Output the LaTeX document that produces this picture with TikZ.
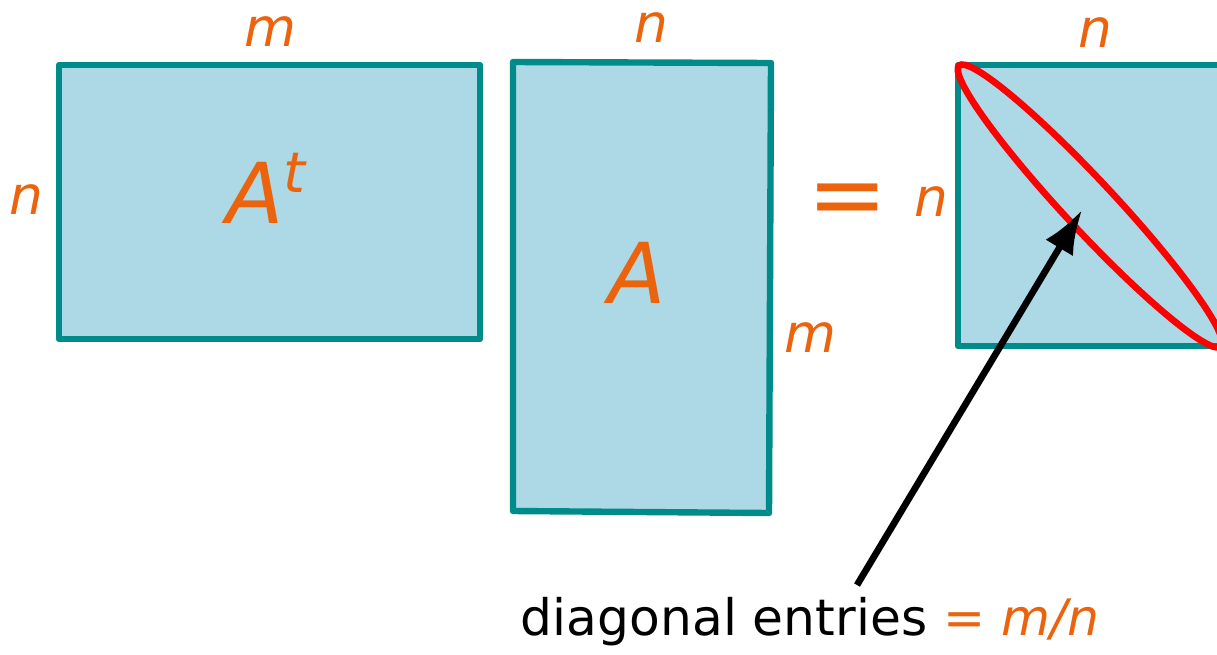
\documentclass[tikz,border=0pt]{standalone}
\usepackage{fontspec}
\setmainfont{DejaVu Sans}
\usepackage{xcolor}
\usetikzlibrary{arrows.meta,positioning}

\definecolor{matfill}{RGB}{173,216,230}
\definecolor{matedge}{RGB}{0,139,139}
\definecolor{dimorange}{RGB}{236,99,14}

\begin{document}
\begin{tikzpicture}[x=0.75pt,y=-0.75pt,
    matrixbox/.style={fill=matfill,draw=matedge,line width=4.8pt,line join=round},
    dimlabel/.style={text=dimorange,inner sep=0pt,font=\fontsize{40}{48}\selectfont\itshape},
    matname/.style={text=dimorange,inner sep=0pt,anchor=base,font=\fontsize{63}{70}\selectfont\itshape}]
  \useasboundingbox (0,0) rectangle (1217,654);

  % A^t : n rows, m columns
  \draw[matrixbox] (59,65) rectangle (480,339);
  \node[matname] (At) at (266,223) {A\raisebox{23pt}{\fontsize{42}{48}\selectfont t}};
  \node[dimlabel] (Atm) at (270,32) {m};
  \node[dimlabel] (Atn) at (26,200) {n};

  % A : m rows, n columns (drawn slightly askew)
  \draw[matrixbox] (513,62) -- (771,63) -- (769,513) -- (513,511) -- cycle;
  \node[matname] (A) at (637,303) {A};
  \node[dimlabel] (An) at (651,28) {n};
  \node[dimlabel] (Am) at (810,338) {m};

  % equals sign
  \node[text=dimorange,inner sep=0pt,font=\fontsize{72}{80}\selectfont] (eq) at (848,206) {=};

  % product A^t A : n x n, runs off the right edge
  \draw[matrixbox] (958,65) rectangle (1240,346);
  \node[dimlabel] (Pn) at (1095,33) {n};
  \node[dimlabel] (Pl) at (931,202) {n};

  % the diagonal
  \coordinate (dc) at (1090,206);
  \draw[red,line width=5pt,rotate around={-47:(dc)}] (dc) ellipse [x radius=192,y radius=25];

  % annotation
  \node[anchor=base,inner sep=0pt,font=\fontsize{37.7}{44}\selectfont] (diag) at (810,635)
    {diagonal entries {\color{dimorange}= \textit{m/n}}};
  \coordinate (tail) at (857,585);
  \coordinate (tip) at (1082,210);
  \draw[-{Latex[length=33pt,width=24pt]},line width=5pt] (tail) -- (tip);
\end{tikzpicture}
\end{document}
